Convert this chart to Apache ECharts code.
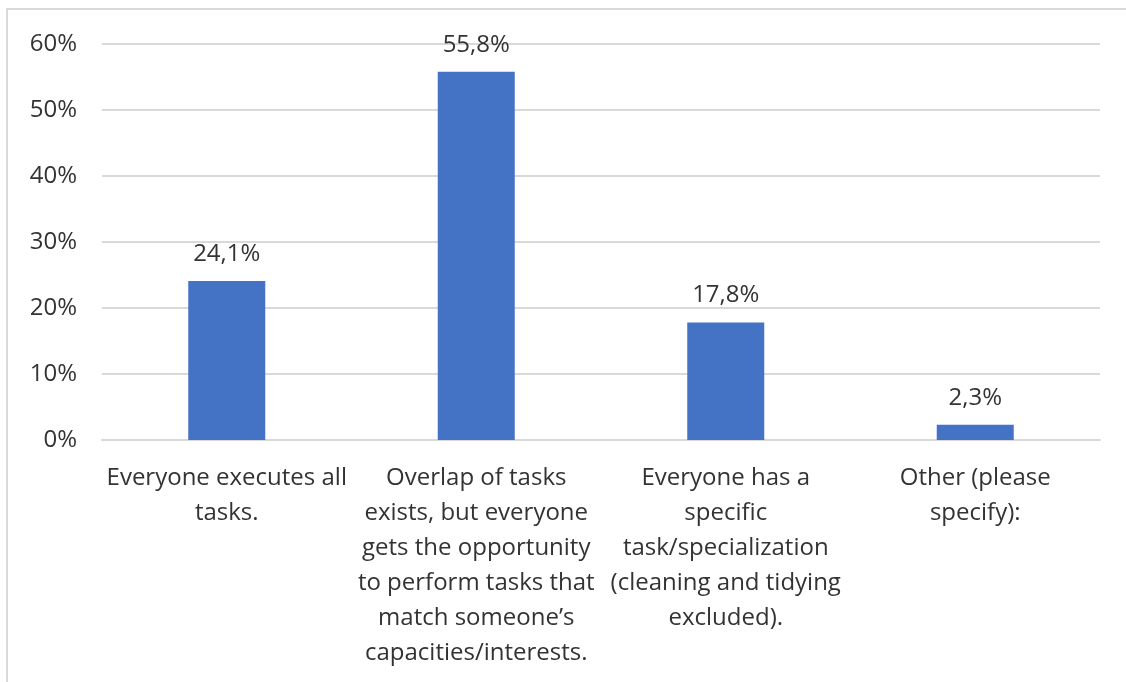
<!DOCTYPE html>
<html><head><meta charset="utf-8">
<script src="https://cdn.jsdelivr.net/npm/echarts@6/dist/echarts.min.js"></script>
<style>html,body{margin:0;padding:0;background:#fff}#c{width:1126px;height:682px}</style>
</head><body><div id="c"></div>
<script>
var categories = [
  "Everyone executes all\ntasks.",
  "Overlap of tasks\nexists, but everyone\ngets the opportunity\nto perform tasks that\nmatch someone’s\ncapacities/interests.",
  "Everyone has a\nspecific\ntask/specialization\n(cleaning and tidying\nexcluded).",
  "Other (please\nspecify):"
];
var values = [24.1, 55.8, 17.8, 2.3];
var yTicks = [0, 10, 20, 30, 40, 50, 60];

var chart = echarts.init(document.getElementById('c'), null, {renderer: 'canvas'});
chart.setOption({
  animation: false,
  backgroundColor: '#ffffff',
  graphic: [{
    type: 'rect', shape: {x: 7, y: 9, width: 1400, height: 1000},
    style: {fill: 'none', stroke: '#d9d9d9', lineWidth: 2}, silent: true
  }],
  grid: {left: 102, right: 26, top: 44, bottom: 242, containLabel: false, outerBoundsMode: 'none'},
  xAxis: {
    type: 'category', data: categories,
    axisLine: {show: true, lineStyle: {color: '#d9d9d9', width: 2}},
    axisTick: {show: false},
    axisLabel: {interval: 0, color: '#333333', fontFamily: 'Open Sans', fontSize: 24, lineHeight: 35, margin: 21, align: 'center'}
  },
  yAxis: {
    type: 'value', min: yTicks[0], max: yTicks[yTicks.length - 1], interval: 10,
    axisLine: {show: false}, axisTick: {show: false},
    splitLine: {lineStyle: {color: '#d9d9d9', width: 2}},
    axisLabel: {color: '#333333', fontFamily: 'Open Sans', fontSize: 24, margin: 25,
      formatter: function (v) { return v + '%'; }}
  },
  series: [{
    type: 'bar', data: values, barWidth: 77,
    itemStyle: {color: '#4472c4'},
    label: {show: true, position: 'top', distance: 15, color: '#333333', fontFamily: 'Open Sans', fontSize: 24,
      formatter: function (p) { return p.value.toFixed(1).replace('.', ',') + '%'; }}
  }]
});
</script></body></html>
